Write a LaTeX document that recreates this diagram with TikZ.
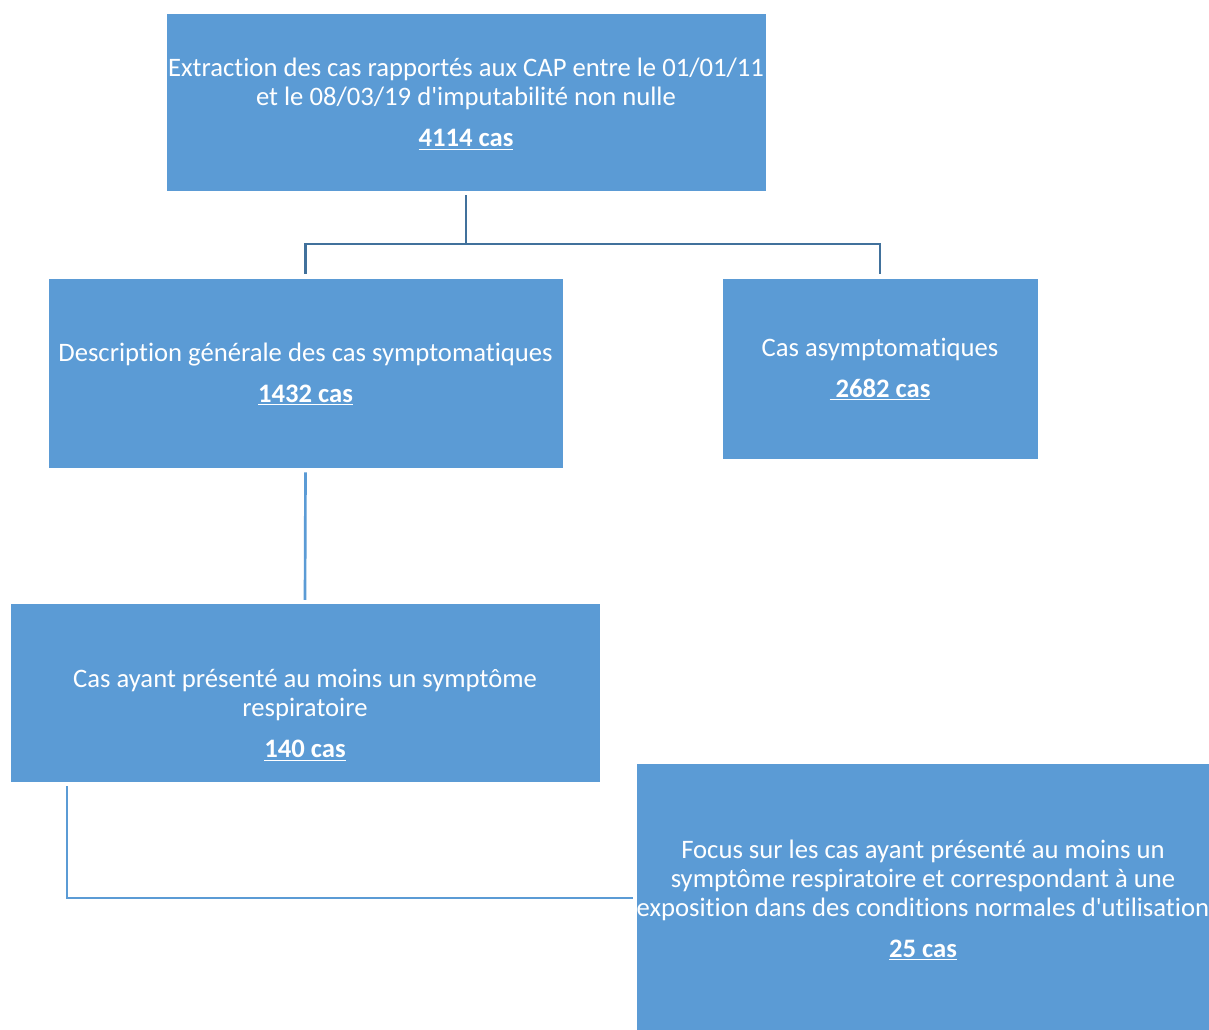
\documentclass[tikz,border=0pt]{standalone}
\usepackage{fontspec}
\setmainfont[Ligatures={TeXOff,CommonOff}]{Carlito}
\definecolor{boxblue}{HTML}{5B9BD5}
\definecolor{linkblue}{HTML}{41719C}
\begin{document}
\begin{tikzpicture}[x=0.75pt,y=-0.75pt,
  stage/.style={rectangle,fill=boxblue,draw=white,line width=0.6pt,inner sep=0pt},
  label/.style={text=white,align=center,inner sep=0pt,font=\fontsize{20}{21.75}\selectfont},
  link/.style={draw=linkblue,line width=2pt},
  softlink/.style={draw=boxblue,line width=2pt}]
\useasboundingbox (0,0) rectangle (1209,1030);

% boxes
\node[stage,minimum width=450pt,minimum height=133.5pt] (extract) at (466,102) {};
\node[stage,minimum width=386.25pt,minimum height=142.5pt] (sympt) at (305.5,373) {};
\node[stage,minimum width=237pt,minimum height=135.75pt] (asympt) at (880,368.5) {};
\node[stage,minimum width=442.5pt,minimum height=134.25pt] (resp) at (305,692.5) {};
\node[stage,minimum width=429.75pt,minimum height=200.25pt] (focus) at (922.5,896.5) {};

% texts
\node[label] (t1) at (466,104) {Extraction des cas rapportés aux CAP entre le 01/01/11\\et le 08/03/19 d'imputabilité non nulle\\[9pt]\underline{\textbf{4114 cas}}};
\node[label] (t2) at (305.5,374) {Description générale des cas symptomatiques\\[9pt]\underline{\textbf{1432 cas}}};
\node[label] (t3) at (880,369) {Cas asymptomatiques\\[9pt]\underline{\textbf{\ 2682 cas}}};
\node[label] (t4) at (305,715) {Cas ayant présenté au moins un symptôme\\respiratoire\\[9pt]\underline{\textbf{140 cas}}};
\node[label] (t5) at (923,900) {Focus sur les cas ayant présenté au moins un\\symptôme respiratoire et correspondant à une\\exposition dans des conditions normales d'utilisation\\[9pt]\underline{\textbf{25 cas}}};

% connectors
\coordinate (split) at (466,244);
\draw[link] ([yshift=-3pt]extract.south) -- (split);
\draw[link] ([yshift=3pt]sympt.north) |- (split) -| ([yshift=3pt]asympt.north);
\draw[softlink] ([yshift=-3pt]sympt.south) -- ([yshift=2pt]resp.north);
\draw[softlink] ([xshift=-178.5pt,yshift=-3pt]resp.south) |- ([xshift=-2pt,yshift=-1pt]focus.west);
\end{tikzpicture}
\end{document}
